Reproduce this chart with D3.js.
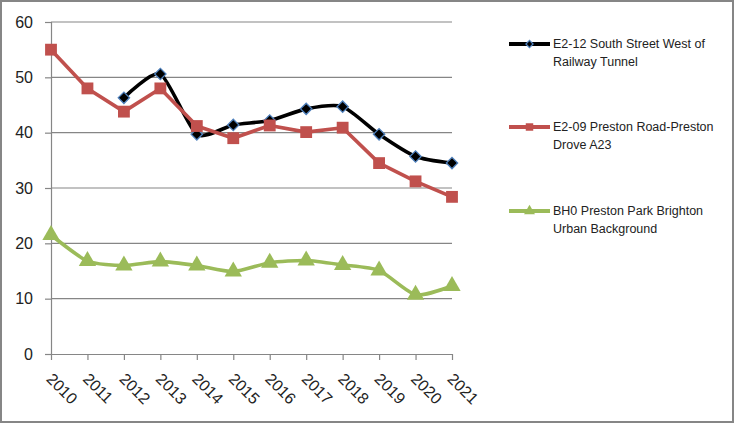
<!DOCTYPE html>
<html>
<head>
<meta charset="utf-8">
<script src="https://cdn.jsdelivr.net/npm/d3@7"></script>
<style>
  body { margin: 0; background: #fff; }
  svg { display: block; font-family: "Liberation Sans", Arial, sans-serif; }
</style>
</head>
<body>
<div id="chart"></div>
<script>
// Data
const years = [2010, 2011, 2012, 2013, 2014, 2015, 2016, 2017, 2018, 2019, 2020, 2021];
const southStreet = [null, null, 46.3, 50.6, 39.7, 41.4, 42.2, 44.3, 44.7, 39.7, 35.7, 34.5];
const prestonRoad = [55.0, 48.0, 43.8, 48.0, 41.2, 39.0, 41.3, 40.1, 40.9, 34.5, 31.2, 28.4];
const prestonPark = [21.5, 16.8, 16.0, 16.7, 16.0, 14.9, 16.5, 16.9, 16.1, 15.1, 10.7, 12.3];
const yTicks = [0, 10, 20, 30, 40, 50, 60];
const seriesNames = [
    ["E2-12 South Street West of", "Railway Tunnel"],
    ["E2-09 Preston Road-Preston", "Drove A23"],
    ["BH0 Preston Park Brighton", "Urban Background"]
];

const W = 737, H = 424;
const margin = { top: 22, left: 51 };
const width = 452 - margin.left;
const height = 354 - margin.top;

const svg = d3.select("#chart").append("svg")
    .attr("width", W)
    .attr("height", H);

// Outer frame
svg.append("rect")
    .attr("x", 1).attr("y", 1)
    .attr("width", 732).attr("height", 421)
    .attr("fill", "#fff")
    .attr("stroke", "#868686")
    .attr("stroke-width", 2);

const g = svg.append("g")
    .attr("transform", `translate(${margin.left},${margin.top})`);

const x = d3.scalePoint().domain(years).range([0, width]);
const y = d3.scaleLinear().domain([0, 60]).range([height, 0]);

// Gridlines
g.append("g")
    .selectAll("line")
    .data(yTicks.filter(d => d > 0))
    .join("line")
    .attr("x1", 0).attr("x2", width)
    .attr("y1", d => y(d)).attr("y2", d => y(d))
    .attr("stroke", "#868686")
    .attr("stroke-width", 1.2);

// Y axis
const yAxis = g.append("g")
    .call(d3.axisLeft(y).tickValues(yTicks).tickSize(6).tickPadding(12));
yAxis.select(".domain").attr("stroke", "#868686").attr("stroke-width", 1.2);
yAxis.selectAll(".tick line").attr("stroke", "#868686").attr("stroke-width", 1.2);
yAxis.selectAll("text")
    .attr("font-size", 16)
    .attr("fill", "#222")
    .attr("font-family", "\"Liberation Sans\", Arial, sans-serif");

// X axis
const xAxis = g.append("g")
    .attr("transform", `translate(0,${height})`)
    .call(d3.axisBottom(x).tickSize(6).tickSizeOuter(0));
xAxis.select(".domain").attr("stroke", "#868686").attr("stroke-width", 1.2);
xAxis.selectAll(".tick line").attr("stroke", "#868686").attr("stroke-width", 1.2);
xAxis.selectAll("text")
    .attr("font-size", 16)
    .attr("fill", "#222")
    .attr("font-family", "\"Liberation Sans\", Arial, sans-serif")
    .attr("text-anchor", "start")
    .attr("x", 0)
    .attr("y", 0)
    .attr("dy", 0)
    .attr("transform", "translate(-6,26) rotate(45)");

const series = [
    { values: southStreet, color: "#000000", marker: "diamond", smooth: true },
    { values: prestonRoad, color: "#c0504d", marker: "square", smooth: false },
    { values: prestonPark, color: "#9bbb59", marker: "triangle", smooth: true }
];

const symbolType = {
    diamond: d3.symbolSquare,
    square: d3.symbolSquare,
    triangle: d3.symbolTriangle
};
const symbolSize = { diamond: 64, square: 140, triangle: 130 };

function drawMarker(sel, s, size) {
    sel.attr("d", d3.symbol().type(symbolType[s.marker]).size(size))
        .attr("fill", s.color)
        .attr("stroke", s.marker === "diamond" ? "#4f81bd" : s.color)
        .attr("stroke-width", s.marker === "diamond" ? 1.3 : 0);
}

series.forEach(s => {
    const pts = years.map((yr, i) => ({ year: yr, value: s.values[i] }))
        .filter(d => d.value !== null);

    const line = d3.line()
        .x(d => x(d.year))
        .y(d => y(d.value))
        .curve(s.smooth ? d3.curveCardinal.tension(0.35) : d3.curveLinear);

    g.append("path")
        .datum(pts)
        .attr("fill", "none")
        .attr("stroke", s.color)
        .attr("stroke-width", 3.6)
        .attr("stroke-linejoin", "round")
        .attr("d", line);

    const rot = s.marker === "diamond" ? " rotate(45)" : "";
    g.append("g")
        .selectAll("path")
        .data(pts)
        .join("path")
        .attr("transform", d => `translate(${x(d.year)},${y(d.value)})${rot}`)
        .call(sel => drawMarker(sel, s, symbolSize[s.marker]));
});

// Legend
const legendY = [44, 127, 211];
const legend = svg.append("g");
series.forEach((s, i) => {
    const lg = legend.append("g").attr("transform", `translate(509,${legendY[i]})`);
    lg.append("line")
        .attr("x1", 0).attr("x2", 41)
        .attr("y1", 0).attr("y2", 0)
        .attr("stroke", s.color)
        .attr("stroke-width", 4);
    const rot = s.marker === "diamond" ? " rotate(45)" : "";
    lg.append("path")
        .attr("transform", `translate(20.5,0)${rot}`)
        .call(sel => drawMarker(sel, s, symbolSize[s.marker] * 0.4));
    lg.selectAll("text")
        .data(seriesNames[i])
        .join("text")
        .attr("x", 44)
        .attr("y", (d, j) => j * 18)
        .attr("dy", "0.35em")
        .attr("font-size", 12.5)
        .attr("fill", "#222")
        .text(d => d);
});
</script>
</body>
</html>
